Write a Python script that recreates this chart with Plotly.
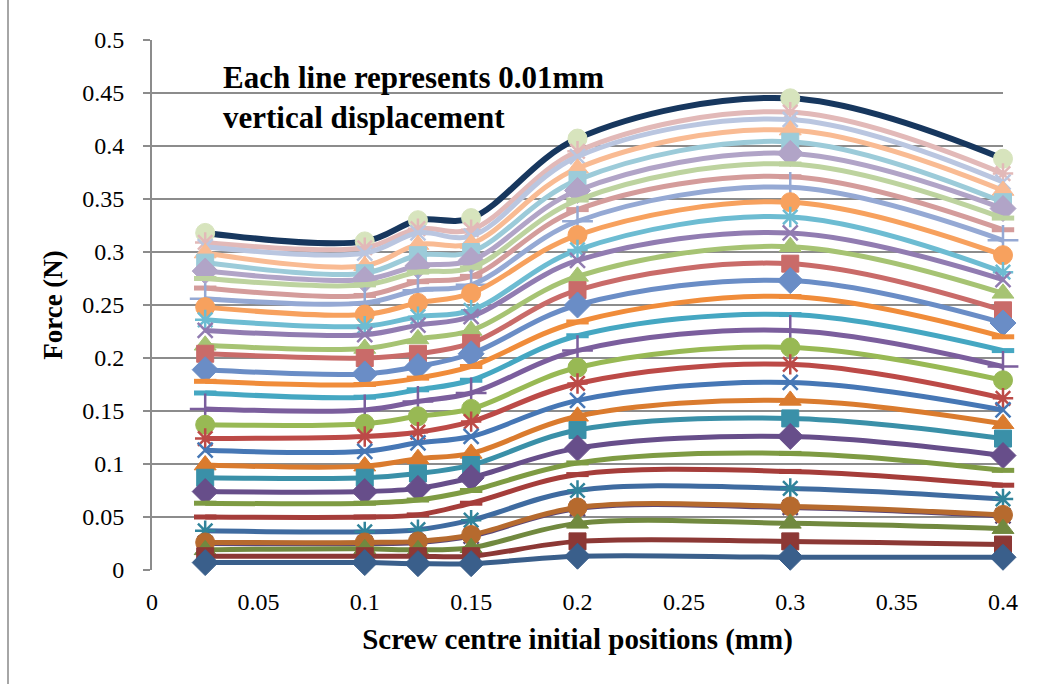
import plotly.graph_objects as go

# ---------------- data ----------------
x_positions = [0.025, 0.1, 0.125, 0.15, 0.2, 0.3, 0.4]

# force (N) per line, listed from the lowest line to the highest
s01 = [0.007, 0.007, 0.006, 0.006, 0.013, 0.012, 0.012]
s02 = [0.013, 0.013, 0.013, 0.013, 0.027, 0.027, 0.024]
s03 = [0.019, 0.020, 0.019, 0.021, 0.044, 0.044, 0.039]
s04 = [0.026, 0.026, 0.027, 0.033, 0.059, 0.060, 0.052]
s05 = [0.025, 0.025, 0.026, 0.032, 0.058, 0.059, 0.051]
s06 = [0.037, 0.036, 0.038, 0.047, 0.075, 0.077, 0.067]
s07 = [0.050, 0.050, 0.052, 0.063, 0.090, 0.093, 0.080]
s08 = [0.063, 0.063, 0.066, 0.075, 0.101, 0.110, 0.094]
s09 = [0.074, 0.074, 0.077, 0.087, 0.115, 0.126, 0.108]
s10 = [0.087, 0.087, 0.091, 0.099, 0.132, 0.143, 0.124]
s11 = [0.099, 0.098, 0.105, 0.110, 0.145, 0.160, 0.138]
s12 = [0.113, 0.112, 0.120, 0.126, 0.160, 0.177, 0.151]
s13 = [0.124, 0.126, 0.130, 0.140, 0.176, 0.194, 0.162]
s14 = [0.137, 0.138, 0.145, 0.152, 0.191, 0.210, 0.179]
s15 = [0.152, 0.151, 0.159, 0.167, 0.207, 0.226, 0.192]
s16 = [0.167, 0.163, 0.170, 0.179, 0.221, 0.241, 0.207]
s17 = [0.178, 0.175, 0.181, 0.192, 0.234, 0.258, 0.220]
s18 = [0.189, 0.185, 0.192, 0.204, 0.250, 0.273, 0.233]
s19 = [0.204, 0.200, 0.204, 0.214, 0.264, 0.289, 0.245]
s20 = [0.212, 0.209, 0.218, 0.226, 0.277, 0.305, 0.261]
s21 = [0.226, 0.222, 0.231, 0.239, 0.292, 0.318, 0.274]
s22 = [0.236, 0.230, 0.239, 0.245, 0.302, 0.333, 0.281]
s23 = [0.248, 0.241, 0.252, 0.261, 0.316, 0.347, 0.297]
s24 = [0.256, 0.252, 0.264, 0.269, 0.329, 0.361, 0.311]
s25 = [0.266, 0.259, 0.272, 0.277, 0.340, 0.371, 0.321]
s26 = [0.275, 0.269, 0.281, 0.285, 0.349, 0.383, 0.332]
s27 = [0.282, 0.274, 0.287, 0.292, 0.358, 0.393, 0.341]
s28 = [0.290, 0.280, 0.297, 0.300, 0.368, 0.404, 0.347]
s29 = [0.299, 0.287, 0.307, 0.308, 0.379, 0.415, 0.358]
s30 = [0.305, 0.299, 0.318, 0.315, 0.390, 0.425, 0.366]
s31 = [0.309, 0.304, 0.322, 0.321, 0.395, 0.432, 0.374]
s32 = [0.318, 0.310, 0.330, 0.332, 0.407, 0.445, 0.388]

series_values = [s01, s02, s03, s04, s05, s06, s07, s08, s09, s10, s11, s12, s13, s14, s15, s16,
                 s17, s18, s19, s20, s21, s22, s23, s24, s25, s26, s27, s28, s29, s30, s31, s32]

y_tick_vals = [0, 0.05, 0.1, 0.15, 0.2, 0.25, 0.3, 0.35, 0.4, 0.45, 0.5]
y_tick_text = ["0", "0.05", "0.1", "0.15", "0.2", "0.25", "0.3", "0.35", "0.4", "0.45", "0.5"]
x_tick_vals = [0, 0.05, 0.1, 0.15, 0.2, 0.25, 0.3, 0.35, 0.4]
x_tick_text = ["0", "0.05", "0.1", "0.15", "0.2", "0.25", "0.3", "0.35", "0.4"]

# ---------------- styles ----------------
line_colors = ["#3A5F8B", "#8C3835", "#71893F", "#B66A2E", "#5C4776", "#3F6BA0", "#A53D3A", "#7E9B43",
               "#674E8A", "#3A90A8", "#DA7B2E", "#4677B5", "#BC4A47", "#98B954", "#7B5E9D", "#45A7C2",
               "#F08C3A", "#6A8DC6", "#C96B69", "#A6C373", "#917CB1", "#6DBCD2", "#F7A15E", "#95A9D4",
               "#D49C9B", "#BDD39F", "#B1A4C7", "#9CCBD9", "#F9BB93", "#BAC6E0", "#E2B9B8", "#17375E"]
marker_colors = list(line_colors)
marker_colors[5] = "#31849B"
marker_colors[31] = "#D7E4BD"
symbols = ["diamond", "square", "triangle-up", "circle", "x-thin", "asterisk", "line-ew", "line-ew",
           "diamond", "square", "triangle-up", "x-thin", "asterisk", "circle", "cross-thin", "line-ew",
           "line-ew", "diamond", "square", "triangle-up", "x-thin", "asterisk", "circle", "cross-thin",
           "line-ew", "line-ew", "diamond", "square", "triangle-up", "x-thin", "asterisk", "circle"]

sym_size = {"diamond": 20, "square": 17, "triangle-up": 19, "circle": 19, "x-thin": 15,
            "asterisk": 17, "cross-thin": 22, "line-ew": 16}

SERIF = "'Liberation Serif', 'Times New Roman', serif"

fig = go.Figure()
n = len(series_values)
for i in reversed(range(n)):
    sym = symbols[i]
    thin = sym in ("x-thin", "asterisk", "cross-thin")
    if sym == "line-ew":
        mline = dict(color=marker_colors[i], width=5)
    elif thin:
        mline = dict(color=marker_colors[i], width=2.5)
    else:
        mline = dict(color=marker_colors[i], width=1)
    fig.add_trace(go.Scatter(
        x=x_positions, y=series_values[i], mode="lines+markers",
        line=dict(color=line_colors[i], width=6 if i == n - 1 else 5, shape="spline", smoothing=1.0),
        marker=dict(symbol=sym, size=sym_size[sym], color=marker_colors[i], line=mline),
        cliponaxis=False, showlegend=False, hoverinfo="x+y",
    ))

L, R, T, B = 152, 37, 40, 114
pw = 1040 - L - R
ph = 684 - T - B

fig.update_layout(
    width=1040, height=684,
    margin=dict(l=L, r=R, t=T, b=B),
    paper_bgcolor="white", plot_bgcolor="white",
    font=dict(family=SERIF, color="black"),
    xaxis=dict(range=[0, 0.4], tickvals=x_tick_vals, ticktext=x_tick_text,
               showgrid=False, zeroline=False, showline=False, ticks="",
               tickfont=dict(size=24, family=SERIF), ticklabelstandoff=15,
               title=dict(text="<b>Screw centre initial positions (mm)</b>",
                          font=dict(size=29, family=SERIF), standoff=14)),
    yaxis=dict(range=[0, 0.5], tickvals=y_tick_vals, ticktext=y_tick_text,
               showgrid=True, gridcolor="#8C8C8C", gridwidth=2,
               zeroline=False, showline=True, linecolor="#8C8C8C", linewidth=2,
               ticks="outside", ticklen=7, tickcolor="#8C8C8C", tickwidth=2,
               tickfont=dict(size=24, family=SERIF), ticklabelstandoff=14,
               title=dict(text="<b>Force (N)</b>",
                          font=dict(size=27, family=SERIF), standoff=12)),
    annotations=[dict(
        xref="paper", yref="paper", x=(221 - L) / pw, y=(570 - 58) / ph,
        xanchor="left", yanchor="top", align="left", showarrow=False,
        text="<b>Each line represents 0.01mm<br>vertical displacement</b>",
        font=dict(size=31, family=SERIF, color="black"))],
    shapes=[dict(type="line", xref="paper", yref="paper",
                 x0=(8 - L) / pw, x1=(8 - L) / pw, y0=-(684 - 570) / ph, y1=(570 - 0) / ph,
                 line=dict(color="#A6A6A6", width=2))],
)

fig.write_html("out.html", config={"displayModeBar": False},
               post_script="document.body.style.margin='0';document.body.style.padding='0';")
